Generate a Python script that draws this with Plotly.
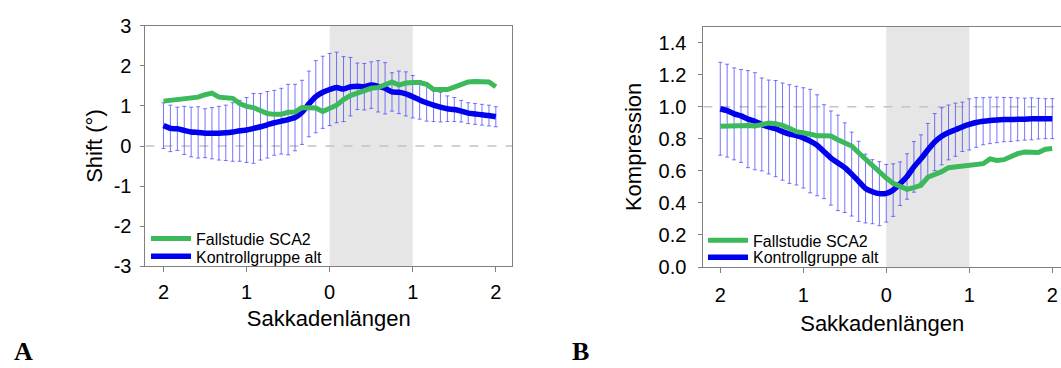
import plotly.graph_objects as go

# ---------------- data ----------------
x_pos = [-2.0, -1.917, -1.833, -1.75, -1.667, -1.583, -1.5, -1.417, -1.333, -1.25, -1.167, -1.083,
         -1.0, -0.917, -0.833, -0.75, -0.667, -0.583, -0.5, -0.417, -0.333, -0.25, -0.167, -0.083,
         0.0, 0.083, 0.167, 0.25, 0.333, 0.417, 0.5, 0.583, 0.667, 0.75, 0.833, 0.917,
         1.0, 1.083, 1.167, 1.25, 1.333, 1.417, 1.5, 1.583, 1.667, 1.75, 1.833, 1.917, 2.0]
tick_vals = [-2, -1, 0, 1, 2]
tick_text = ["2", "1", "0", "1", "2"]
shift_ticks = [-3, -2, -1, 0, 1, 2, 3]
shift_ticktext = ["-3", "-2", "-1", "0", "1", "2", "3"]
komp_ticks = [0, 0.2, 0.4, 0.6, 0.8, 1.0, 1.2, 1.4]

# Panel A: Shift
shift_kontroll = [0.51, 0.44, 0.43, 0.39, 0.35, 0.34, 0.32, 0.32, 0.32, 0.33, 0.35, 0.38,
                  0.40, 0.44, 0.48, 0.53, 0.58, 0.62, 0.66, 0.71, 0.84, 1.05, 1.23, 1.34,
                  1.41, 1.46, 1.42, 1.48, 1.49, 1.48, 1.52, 1.49, 1.44, 1.35, 1.34, 1.30,
                  1.23, 1.15, 1.08, 1.02, 0.97, 0.93, 0.91, 0.87, 0.82, 0.80, 0.78, 0.76, 0.73]
shift_kontroll_err = [0.57, 0.58, 0.54, 0.60, 0.62, 0.64, 0.61, 0.64, 0.67, 0.69, 0.73, 0.76,
                      0.81, 0.87, 0.83, 0.83, 0.81, 0.82, 0.88, 0.83, 0.80, 0.82, 0.90, 0.90,
                      0.90, 0.88, 0.81, 0.73, 0.58, 0.58, 0.58, 0.64, 0.64, 0.48, 0.53, 0.55,
                      0.53, 0.48, 0.46, 0.41, 0.37, 0.32, 0.30, 0.27, 0.26, 0.26, 0.26, 0.26, 0.25]
shift_sca2 = [1.12, 1.14, 1.15, 1.16, 1.18, 1.22, 1.28, 1.32, 1.22, 1.20, 1.19, 1.06,
              0.99, 0.96, 0.88, 0.81, 0.79, 0.79, 0.84, 0.85, 0.96, 0.97, 0.95, 0.86,
              0.95, 1.02, 1.16, 1.26, 1.32, 1.38, 1.44, 1.46, 1.52, 1.60, 1.52, 1.57,
              1.585, 1.585, 1.54, 1.41, 1.41, 1.41, 1.47, 1.55, 1.60, 1.61, 1.61, 1.60, 1.48]

# Panel B: Kompression
komp_kontroll = [0.988, 0.976, 0.956, 0.943, 0.923, 0.91, 0.89, 0.874, 0.864, 0.845, 0.83, 0.82,
                 0.806, 0.786, 0.76, 0.72, 0.68, 0.65, 0.62, 0.58, 0.535, 0.49, 0.47, 0.458,
                 0.46, 0.48, 0.52, 0.565, 0.625, 0.675, 0.73, 0.78, 0.816, 0.84, 0.857, 0.875,
                 0.89, 0.902, 0.91, 0.915, 0.918, 0.92, 0.921, 0.922, 0.923, 0.925, 0.926, 0.926, 0.926]
komp_kontroll_err = [0.29, 0.29, 0.287, 0.29, 0.303, 0.303, 0.29, 0.293, 0.30, 0.303, 0.308, 0.308,
                     0.313, 0.323, 0.315, 0.293, 0.294, 0.298, 0.28, 0.262, 0.25, 0.215, 0.20, 0.20,
                     0.18, 0.164, 0.136, 0.142, 0.158, 0.15, 0.166, 0.178, 0.178, 0.171, 0.166, 0.154,
                     0.16, 0.155, 0.147, 0.145, 0.142, 0.138, 0.137, 0.134, 0.131, 0.131, 0.127, 0.125, 0.125]
komp_sca2 = [0.878, 0.88, 0.884, 0.884, 0.884, 0.88, 0.89, 0.898, 0.894, 0.884, 0.866, 0.845,
             0.838, 0.825, 0.82, 0.82, 0.818, 0.795, 0.775, 0.755, 0.713, 0.672, 0.635, 0.60,
             0.555, 0.522, 0.502, 0.485, 0.495, 0.51, 0.56, 0.575, 0.595, 0.62, 0.625, 0.635,
             0.64, 0.64, 0.645, 0.675, 0.665, 0.67, 0.69, 0.708, 0.718, 0.715, 0.715, 0.735, 0.74]

name_sca2 = "Fallstudie SCA2"
name_kontroll = "Kontrollgruppe alt"

# ---------------- style ----------------
GREEN = "rgb(60,185,90)"
BLUE = "rgb(0,0,238)"
ERR = "rgba(60,60,255,0.7)"
FRAME = "#808080"
FONT = "Liberation Sans, Arial, sans-serif"

fig = go.Figure()


def add_panel(xa, ya, mean, err, sca2, leg_green, leg_blue):
    fig.add_trace(go.Scatter(x=x_pos, y=mean, mode="markers", marker=dict(size=1, opacity=0),
                             error_y=dict(type="data", array=err, visible=True, color=ERR,
                                          thickness=1, width=2),
                             xaxis=xa, yaxis=ya, showlegend=False, hoverinfo="skip"))
    fig.add_trace(go.Scatter(x=x_pos, y=mean, mode="lines", name=name_kontroll,
                             line=dict(color=BLUE, width=5.5, shape="spline", smoothing=0.6),
                             xaxis=xa, yaxis=ya, legend=leg_blue))
    fig.add_trace(go.Scatter(x=x_pos, y=sca2, mode="lines", name=name_sca2,
                             line=dict(color=GREEN, width=5),
                             xaxis=xa, yaxis=ya, legend=leg_green))


add_panel("x", "y", shift_kontroll, shift_kontroll_err, shift_sca2, "legend", "legend2")
add_panel("x2", "y2", komp_kontroll, komp_kontroll_err, komp_sca2, "legend3", "legend4")

# shaded saccade window and reference lines
for xr, yr, ref in (("x", "y", 0), ("x2", "y2", 1.0)):
    fig.add_shape(type="rect", xref=xr, yref=yr + " domain",
                  x0=0, x1=1, y0=0, y1=1, fillcolor="#e6e6e6", line=dict(width=0), layer="below")
    fig.add_shape(type="line", xref=xr + " domain", yref=yr, x0=0, x1=1, y0=ref, y1=ref,
                  line=dict(color="#c4c4c4", width=1.5, dash="dash"), layer="below")

base = dict(showgrid=False, zeroline=False, showline=True, linecolor=FRAME, linewidth=1,
            ticks="outside", tickcolor=FRAME, tickwidth=1,
            tickfont=dict(family=FONT, size=20, color="black"))
title_font = dict(family=FONT, size=22, color="black")


def leg(xpx, ypx):
    return dict(x=xpx / 1061, y=(368 - ypx) / 368, xanchor="left", yanchor="middle",
                bgcolor="rgba(0,0,0,0)", itemwidth=40,
                font=dict(family=FONT, size=16, color="black"))


label_font = dict(family="Liberation Serif, serif", size=26, color="black")

fig.update_layout(
    width=1061, height=368, margin=dict(l=0, r=0, t=0, b=0),
    paper_bgcolor="white", plot_bgcolor="white",
    font=dict(family=FONT, color="black"),
    xaxis=dict(domain=[0.1371, 0.4826], range=[-2.217, 2.195], tickvals=tick_vals, ticktext=tick_text,
               mirror=True, anchor="y", ticklen=5, ticklabelstandoff=3,
               title=dict(text="Sakkadenlängen", font=title_font, standoff=8), **base),
    yaxis=dict(domain=[0.2622, 0.9573], range=[-3, 3], tickvals=shift_ticks, ticktext=shift_ticktext,
               mirror=True, anchor="x", ticklen=4, ticklabelstandoff=5,
               title=dict(text="Shift (°)", font=title_font, standoff=4), **base),
    xaxis2=dict(domain=[0.6629, 1.0], range=[-2.204, 2.105], tickvals=tick_vals, ticktext=tick_text,
                mirror=True, anchor="y2", ticklen=5, ticklabelstandoff=5,
                title=dict(text="Sakkadenlängen", font=title_font, standoff=10), **base),
    yaxis2=dict(domain=[0.2601, 0.9546], range=[0, 1.5], tickvals=komp_ticks,
                tickformat=".1f", mirror=False, anchor="x2", ticklen=4, ticklabelstandoff=8,
                title=dict(text="Kompression", font=title_font, standoff=10), **base),
    legend=leg(146, 242),
    legend2=leg(146, 261),
    legend3=leg(703, 244),
    legend4=leg(703, 262),
    annotations=[
        dict(text="<b>A</b>", x=0.011, y=(368 - 362) / 368, xref="paper", yref="paper",
             xanchor="left", yanchor="middle", showarrow=False, font=label_font),
        dict(text="<b>B</b>", x=0.537, y=(368 - 362) / 368, xref="paper", yref="paper",
             xanchor="left", yanchor="middle", showarrow=False, font=label_font),
    ],
)

fig.write_html("out.html")
